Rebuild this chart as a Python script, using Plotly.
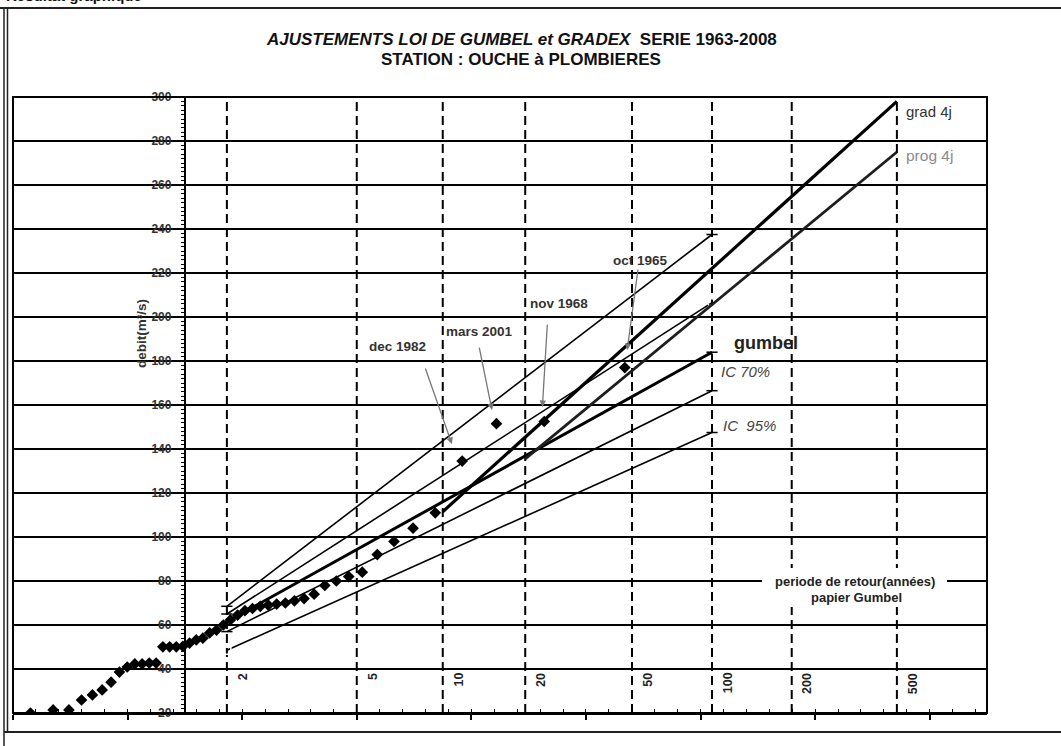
import math
import plotly.graph_objects as go

# ---------------- data ----------------
return_periods = [2, 5, 10, 20, 50, 100, 200, 500]
return_labels = ["2", "5", "10", "20", "50", "100", "200", "500"]

# observed annual maxima (sorted) with their reduced-variate plotting positions
obs_u = [-1.348, -1.150, -1.012, -0.902, -0.807, -0.722, -0.644, -0.571, -0.503, -0.437,
         -0.373, -0.311, -0.251, -0.192, -0.133, -0.075, -0.017, 0.041, 0.099, 0.157,
         0.216, 0.276, 0.336, 0.397, 0.460, 0.524, 0.590, 0.658, 0.728, 0.801,
         0.877, 0.956, 1.040, 1.128, 1.221, 1.322, 1.430, 1.548, 1.679, 1.825,
         1.991, 2.185, 2.420, 2.719, 3.136, 3.839]
obs_q = [20.0, 21.4, 21.4, 25.9, 28.2, 30.5, 34.0, 38.6, 40.9, 42.3,
         42.3, 42.7, 42.7, 50.1, 50.1, 50.1, 50.3, 51.8, 53.2, 54.0,
         56.4, 57.7, 60.0, 62.3, 64.5, 66.5, 67.5, 68.5, 69.0, 69.5,
         70.0, 71.0, 72.0, 74.0, 78.0, 80.0, 82.0, 84.0, 92.0, 98.0,
         104.0, 111.0, 134.5, 151.5, 152.5, 177.0]

fit_T = [2, 100]
gumbel_q = [61.5, 184.0]
ic70_up_q = [65.0, 206.5]
ic70_lo_q = [57.0, 166.5]
ic95_up_q = [68.5, 237.5]
ic95_lo_q = [48.5, 147.5]

grad_T = [10, 500]
grad_q = [111.5, 298.0]
prog_T = [20, 500]
prog_q = [135.5, 275.0]

events = ["dec 1982", "mars 2001", "nov 1968", "oct 1965"]
event_u = [2.33, 2.68, 3.12, 3.86]
event_q = [142.3, 157.7, 159.1, 185.0]

y_ticks = list(range(20, 301, 20))


def gumbel_u(T):
    """Gumbel reduced variate for a return period (axis transform)."""
    return -math.log(-math.log(1.0 - 1.0 / T))


# ---------------- geometry (layout only) ----------------
W, H = 1061, 746
L, R, T_, B = 13, 987, 97, 713
X0, X1 = -1.5, 7.0
Y0, Y1 = 20, 300


def px_x(p):
    return (p - L) / (R - L)


def px_y(p):
    return (B - p) / (B - T_)


FONT = "Liberation Sans, Arial, sans-serif"

fig = go.Figure()

# observed points
fig.add_trace(go.Scatter(
    x=obs_u, y=obs_q, mode="markers",
    marker=dict(symbol="diamond", size=9, color="black"),
    showlegend=False, hoverinfo="skip"))

fit_x = [gumbel_u(t) for t in fit_T]


def fit_line(q, width, sym_start, sym_end, color="black"):
    fig.add_trace(go.Scatter(
        x=fit_x, y=q, mode="lines+markers",
        line=dict(color=color, width=width),
        marker=dict(symbol=[sym_start, sym_end], size=8, color="white",
                    line=dict(color="black", width=1.5)),
        showlegend=False, hoverinfo="skip"))


fit_line(ic95_up_q, 1.6, "line-ew", "line-ew")
fit_line(ic70_up_q, 1.6, "line-ew", "circle-open")
fit_line(gumbel_q, 3, "line-ew", "line-ew")
fit_line(ic70_lo_q, 1.6, "line-ew", "line-ew")
fit_line(ic95_lo_q, 1.6, "square-open", "line-ew")

# gradex lines
fig.add_trace(go.Scatter(
    x=[gumbel_u(t) for t in grad_T], y=grad_q, mode="lines",
    line=dict(color="black", width=3.2), showlegend=False, hoverinfo="skip"))
fig.add_trace(go.Scatter(
    x=[gumbel_u(t) for t in prog_T], y=prog_q, mode="lines",
    line=dict(color="#1e1e1e", width=2.8), showlegend=False, hoverinfo="skip"))

shapes = []
# dashed return-period verticals
for t in return_periods:
    u = gumbel_u(t)
    shapes.append(dict(type="line", xref="x", yref="y", x0=u, x1=u, y0=Y0, y1=Y1,
                       line=dict(color="black", width=2, dash="9px,5px"), layer="below"))
# plot border
shapes.append(dict(type="rect", xref="paper", yref="paper", x0=0, x1=1, y0=0, y1=1,
                   line=dict(color="black", width=2)))
# white patch behind the axis note
shapes.append(dict(type="rect", xref="paper", yref="paper",
                   x0=px_x(762), x1=px_x(947), y0=px_y(607), y1=px_y(568),
                   line=dict(width=0), fillcolor="white", layer="above"))
# page frame
shapes += [
    dict(type="line", xref="paper", yref="paper", x0=px_x(0), x1=px_x(W), y0=px_y(8), y1=px_y(8),
         line=dict(color="#222", width=2)),
    dict(type="line", xref="paper", yref="paper", x0=px_x(4), x1=px_x(W), y0=px_y(732), y1=px_y(732),
         line=dict(color="#222", width=2)),
    dict(type="line", xref="paper", yref="paper", x0=px_x(4), x1=px_x(4), y0=px_y(8), y1=px_y(746),
         line=dict(color="#222", width=1.5)),
    dict(type="line", xref="paper", yref="paper", x0=px_x(7.5), x1=px_x(7.5), y0=px_y(8), y1=px_y(732),
         line=dict(color="#222", width=1.5)),
]

ann = []
# return period labels (rotated)
for t, lab in zip(return_periods, return_labels):
    ann.append(dict(x=gumbel_u(t), y=39.2, xref="x", yref="y", text="<b>%s</b>" % lab,
                    textangle=-90, xanchor="left", yanchor="top", xshift=7, showarrow=False,
                    font=dict(family=FONT, size=12.5, color="#222")))

# event arrows (tail offsets in px) and labels (centre offsets in px)
arrow_off = [(-27, -77), (-13, -64), (5, -84), (11, -82)]
text_off = [(-54, -97), (-12, -79), (17, -103), (13, -90)]
for name, u, q, (ax, ay), (tx, ty) in zip(events, event_u, event_q, arrow_off, text_off):
    ann.append(dict(x=u, y=q, xref="x", yref="y", text="",
                    showarrow=True, ax=ax, ay=ay, arrowhead=2, arrowsize=1, arrowwidth=1.3,
                    arrowcolor="#777", standoff=0))
    ann.append(dict(x=u, y=q, xref="x", yref="y", text="<b>%s</b>" % name,
                    showarrow=False, xshift=tx, yshift=-ty, xanchor="center", yanchor="middle",
                    font=dict(family=FONT, size=13.5, color="#333")))

# line labels
u500 = gumbel_u(500)
u100 = gumbel_u(100)
ann += [
    dict(x=u500, y=grad_q[-1], xref="x", yref="y", text="grad 4j", showarrow=False,
         xanchor="left", yanchor="middle", xshift=7, yshift=-10,
         font=dict(family=FONT, size=15, color="#333")),
    dict(x=u500, y=prog_q[-1], xref="x", yref="y", text="prog 4j", showarrow=False,
         xanchor="left", yanchor="middle", xshift=7, yshift=-3,
         font=dict(family=FONT, size=15.5, color="#8a8a8a")),
    dict(x=u100, y=gumbel_q[-1], xref="x", yref="y", text="<b>gumbel</b>", showarrow=False,
         xanchor="left", yanchor="middle", xshift=20, yshift=9,
         font=dict(family=FONT, size=18, color="#222")),
    dict(x=u100, y=ic70_lo_q[-1], xref="x", yref="y", text="<i>IC 70%</i>", showarrow=False,
         xanchor="left", yanchor="middle", xshift=7, yshift=19,
         font=dict(family=FONT, size=15, color="#444")),
    dict(x=u100, y=ic95_lo_q[-1], xref="x", yref="y", text="<i>IC  95%</i>", showarrow=False,
         xanchor="left", yanchor="middle", xshift=9, yshift=7,
         font=dict(family=FONT, size=15, color="#444")),
]

# axis note
ann.append(dict(x=px_x(855), y=px_y(581), xref="paper", yref="paper",
                xanchor="center", yanchor="middle",
                text="<b>periode de retour(années)</b>", showarrow=False,
                font=dict(family=FONT, size=13, color="#222")))
ann.append(dict(x=px_x(856), y=px_y(597), xref="paper", yref="paper",
                xanchor="center", yanchor="middle",
                text="<b>papier Gumbel</b>", showarrow=False,
                font=dict(family=FONT, size=13, color="#222")))
# y axis title
ann.append(dict(x=px_x(141), y=px_y(334), xref="paper", yref="paper",
                xanchor="center", yanchor="middle",
                text="<b>debit(m³/s)</b>", textangle=-90, showarrow=False,
                font=dict(family=FONT, size=13.5, color="#333")))
# titles
ann.append(dict(x=px_x(521), y=px_y(39.5), xref="paper", yref="paper",
                xanchor="center", yanchor="middle",
                text="<b><i>AJUSTEMENTS LOI DE GUMBEL et GRADEX</i>  SERIE 1963-2008</b>",
                showarrow=False, font=dict(family=FONT, size=17, color="#111")))
ann.append(dict(x=px_x(521), y=px_y(60), xref="paper", yref="paper",
                xanchor="center", yanchor="middle",
                text="<b>STATION : OUCHE à PLOMBIERES</b>",
                showarrow=False, font=dict(family=FONT, size=17, color="#111")))
# header, cut at the top edge as in the scanned page
ann.append(dict(x=px_x(4), y=px_y(-5), xref="paper", yref="paper",
                text="<b>Résultat graphique</b>", xanchor="left", yanchor="middle",
                showarrow=False, font=dict(family=FONT, size=15, color="#111")))

fig.update_layout(
    width=W, height=H,
    margin=dict(l=L, r=W - R, t=T_, b=H - B),
    paper_bgcolor="white", plot_bgcolor="white",
    shapes=shapes, annotations=ann, showlegend=False,
    xaxis=dict(range=[X0, X1], showgrid=False, zeroline=False, showline=True,
               linecolor="black", linewidth=2, showticklabels=False,
               ticks="outside", ticklen=5, tickwidth=1.5, tickcolor="black",
               tick0=0.5, dtick=1,
               minor=dict(ticks="inside", ticklen=4, tickwidth=1.2, tickcolor="black",
                          tick0=-1.5, dtick=0.2, showgrid=False)),
    yaxis=dict(range=[Y0, Y1], anchor="free", position=(0 - X0) / (X1 - X0),
               showgrid=True, gridcolor="black", gridwidth=2, zeroline=False,
               showline=True, linecolor="black", linewidth=2,
               tickvals=y_ticks, ticks="outside", ticklen=5, tickwidth=1.5, tickcolor="black",
               ticklabelstandoff=5,
               tickfont=dict(family=FONT, size=12, color="#333", weight="bold"),
               minor=dict(ticks="outside", ticklen=3, tickwidth=1, tickcolor="black",
                          dtick=2, showgrid=False)),
)

fig.write_html("out.html", config={"displayModeBar": False},
               post_script="document.body.style.margin='0px';document.body.style.overflow='hidden';")
